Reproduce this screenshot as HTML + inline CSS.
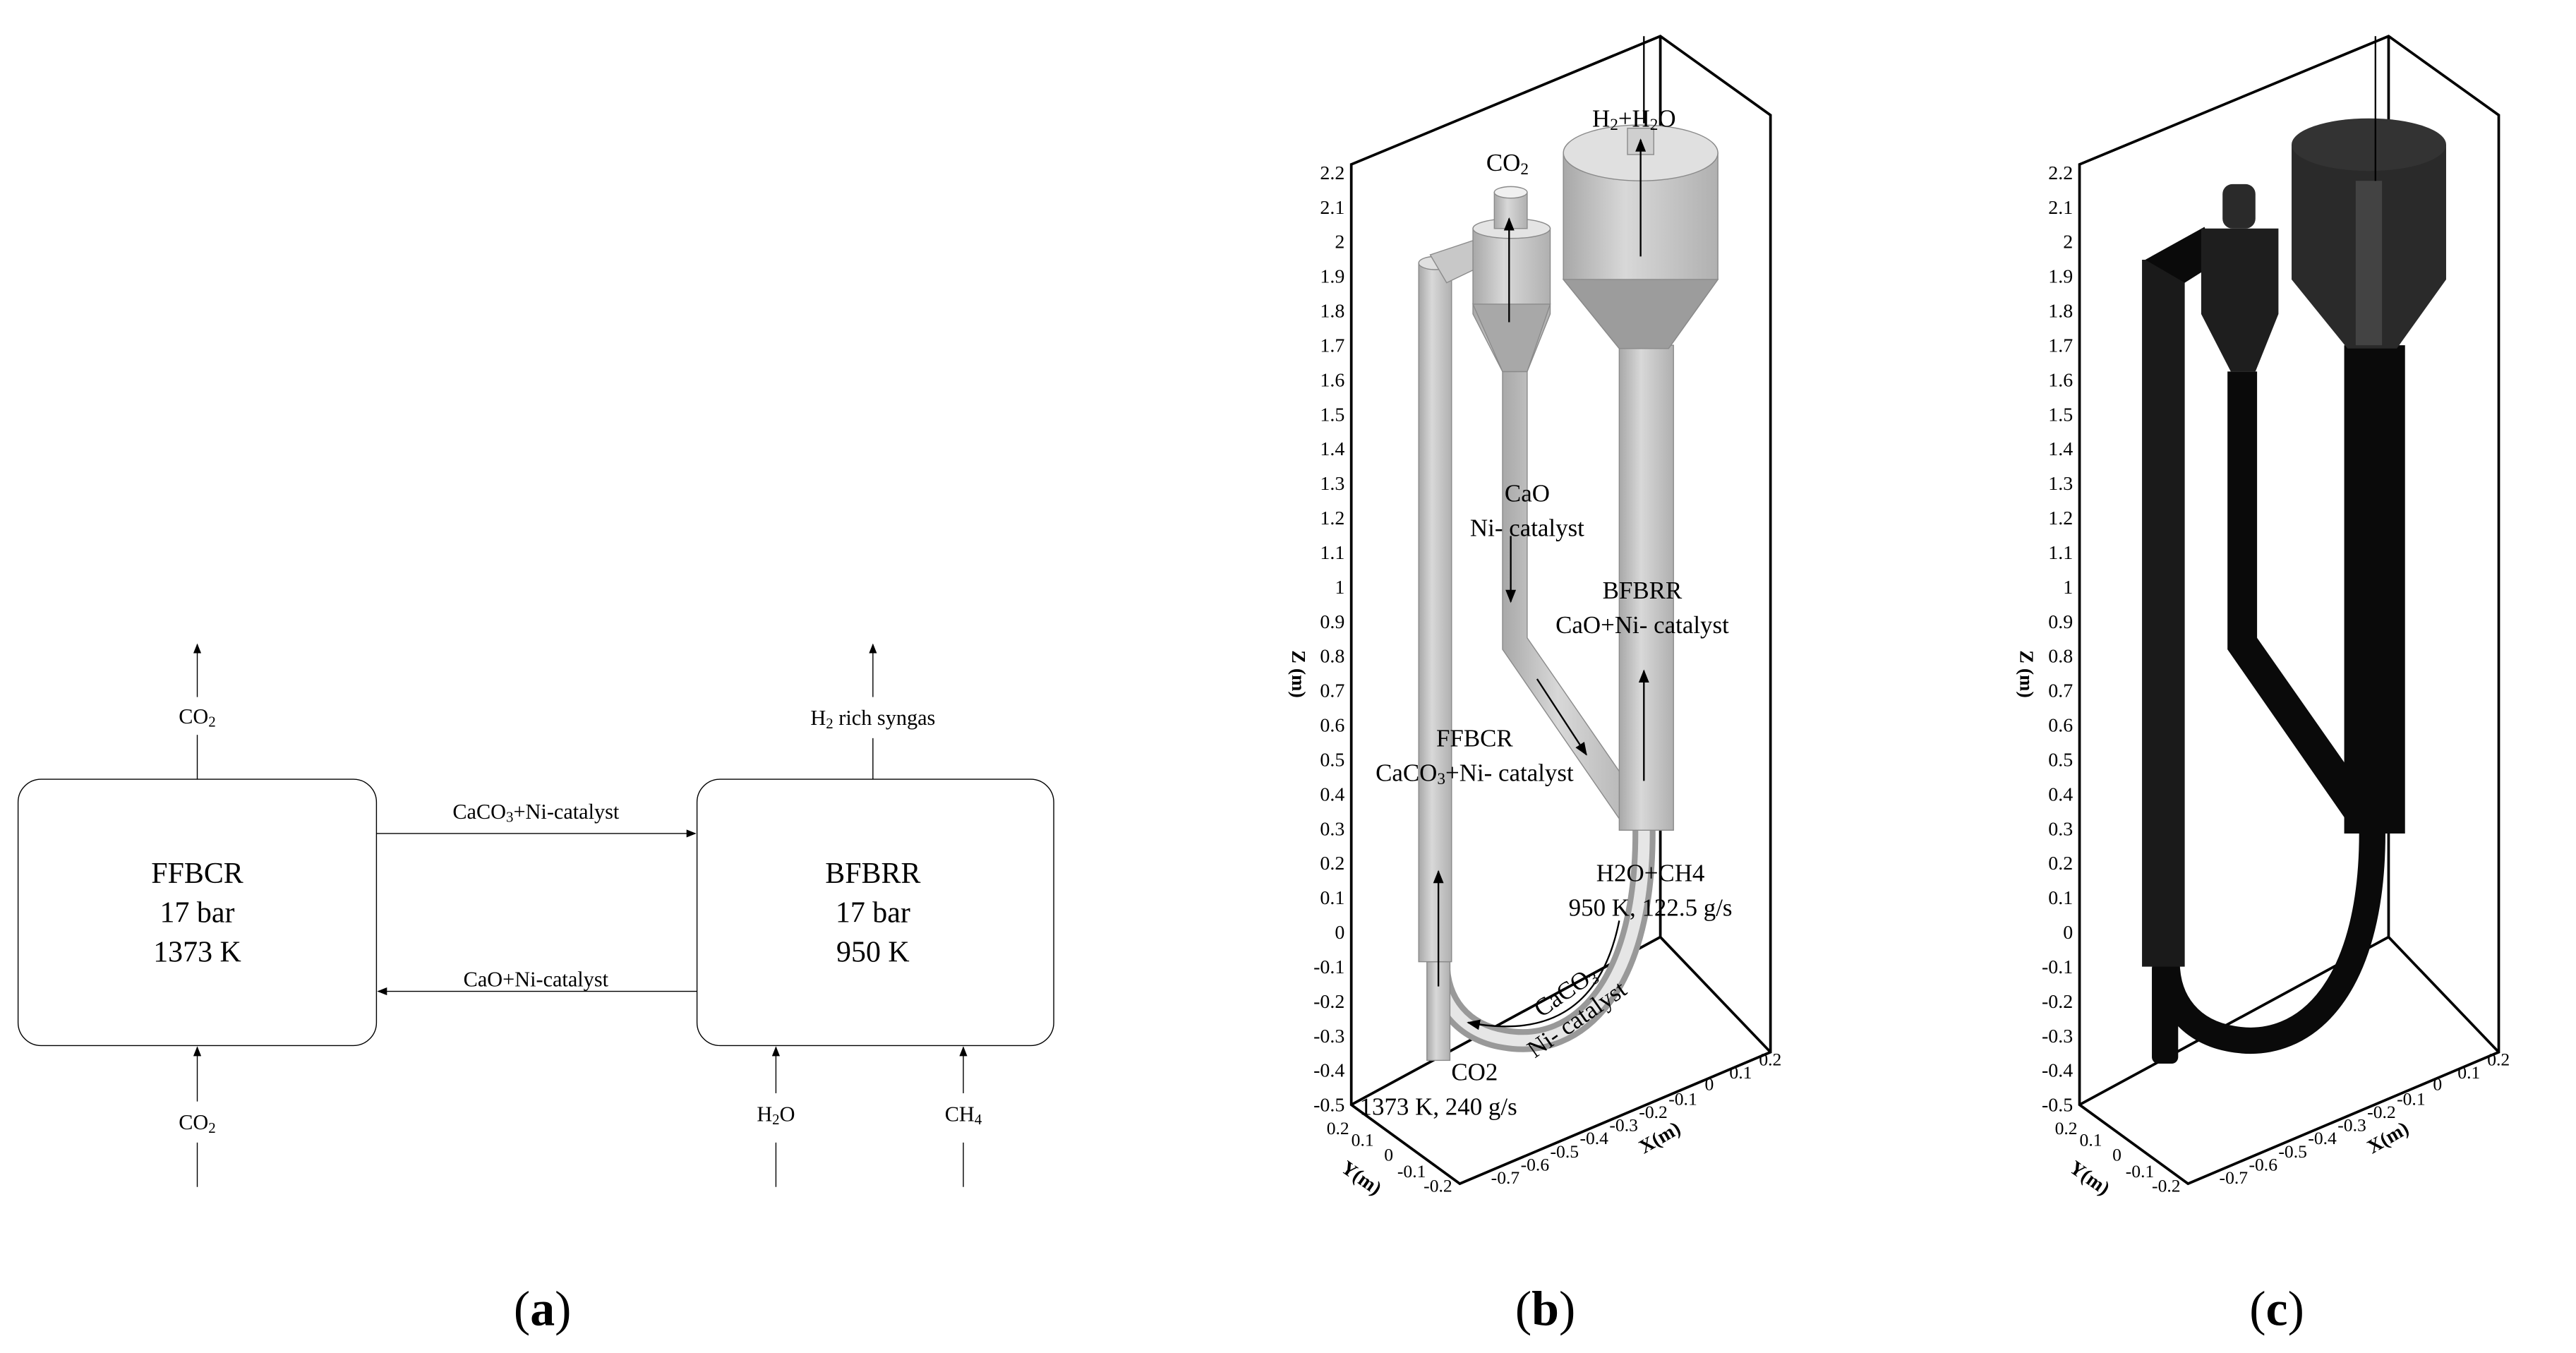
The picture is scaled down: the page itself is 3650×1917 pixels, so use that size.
<!DOCTYPE html>
<html><head><meta charset="utf-8"><style>
html,body{margin:0;padding:0;background:#fff}
svg{display:block}
text{font-family:"Liberation Serif",serif;fill:#000}
</style></head><body>
<svg width="3650" height="1917" viewBox="0 0 1567 823" xmlns="http://www.w3.org/2000/svg">
<defs>
<marker id="ah" viewBox="0 0 10 10" refX="9" refY="5" markerWidth="8" markerHeight="8" markerUnits="userSpaceOnUse" orient="auto"><path d="M0,1 L10,5 L0,9 z" fill="#000"/></marker>
<marker id="ah2" viewBox="0 0 10 10" refX="9" refY="5" markerWidth="6" markerHeight="6" markerUnits="userSpaceOnUse" orient="auto"><path d="M0,1 L10,5 L0,9 z" fill="#000"/></marker>
<linearGradient id="tube" x1="0" x2="1"><stop offset="0" stop-color="#a8a8a8"/><stop offset="0.4" stop-color="#d8d8d8"/><stop offset="1" stop-color="#b0b0b0"/></linearGradient>
<g id="axes">
<g stroke="#000" fill="none" stroke-width="1.6">
<path d="M822,100 L1010,22 L1077,70 L1077,640 L888,720 L822,672 Z"/>
<path d="M1010,22 L1010,570 L822,672 M1010,570 L1077,640"/>
</g>
<g font-size="12" text-anchor="end">
<text x="818" y="109">2.2</text><text x="818" y="130">2.1</text><text x="818" y="151">2</text><text x="818" y="172">1.9</text><text x="818" y="193">1.8</text><text x="818" y="214">1.7</text><text x="818" y="235">1.6</text><text x="818" y="256">1.5</text><text x="818" y="277">1.4</text><text x="818" y="298">1.3</text><text x="818" y="319">1.2</text><text x="818" y="340">1.1</text><text x="818" y="361">1</text><text x="818" y="382">0.9</text><text x="818" y="403">0.8</text><text x="818" y="424">0.7</text><text x="818" y="445">0.6</text><text x="818" y="466">0.5</text><text x="818" y="487">0.4</text><text x="818" y="508">0.3</text><text x="818" y="529">0.2</text><text x="818" y="550">0.1</text><text x="818" y="571">0</text><text x="818" y="592">-0.1</text><text x="818" y="613">-0.2</text><text x="818" y="634">-0.3</text><text x="818" y="655">-0.4</text><text x="818" y="676">-0.5</text>
</g>
<text x="0" y="0" font-size="12" font-weight="bold" transform="translate(786,410) rotate(90)" text-anchor="middle">Z (m)</text>
<g font-size="11">
<text x="807" y="690">0.2</text><text x="822" y="697">0.1</text><text x="842" y="706">0</text><text x="850" y="716">-0.1</text><text x="866" y="725">-0.2</text>
<text x="907" y="720">-0.7</text><text x="925" y="712">-0.6</text><text x="943" y="704">-0.5</text><text x="961" y="696">-0.4</text><text x="979" y="688">-0.3</text><text x="997" y="680">-0.2</text><text x="1015" y="672">-0.1</text><text x="1037" y="663">0</text><text x="1052" y="656">0.1</text><text x="1070" y="648">0.2</text>
</g>
<text font-size="12" font-weight="bold" transform="translate(815,712) rotate(35)">Y(m)</text>
<text font-size="12" font-weight="bold" transform="translate(1000,702) rotate(-30)">X(m)</text>
</g>
</defs>

<!-- Panel (a) -->
<g stroke="#000" stroke-width="0.6" fill="none">
<rect x="11" y="474" width="218" height="162" rx="14"/>
<rect x="424" y="474" width="217" height="162" rx="14"/>
<line x1="120" y1="474" x2="120" y2="447"/><line x1="120" y1="424" x2="120" y2="392" marker-end="url(#ah2)"/>
<line x1="531" y1="474" x2="531" y2="449"/><line x1="531" y1="424" x2="531" y2="392" marker-end="url(#ah2)"/>
<line x1="229" y1="507" x2="423" y2="507" marker-end="url(#ah2)"/>
<line x1="424" y1="603" x2="230" y2="603" marker-end="url(#ah2)"/>
<line x1="120" y1="722" x2="120" y2="695"/><line x1="120" y1="670" x2="120" y2="637" marker-end="url(#ah2)"/>
<line x1="472" y1="722" x2="472" y2="695"/><line x1="472" y1="665" x2="472" y2="637" marker-end="url(#ah2)"/>
<line x1="586" y1="722" x2="586" y2="695"/><line x1="586" y1="665" x2="586" y2="637" marker-end="url(#ah2)"/>
</g>
<g font-size="13" text-anchor="middle">
<text x="120" y="440">CO<tspan font-size="9" dy="2">2</tspan></text>
<text x="531" y="441">H<tspan font-size="9" dy="2">2</tspan><tspan dy="-2"> rich syngas</tspan></text>
<text x="326" y="498">CaCO<tspan font-size="9" dy="2">3</tspan><tspan dy="-2">+Ni-catalyst</tspan></text>
<text x="326" y="600">CaO+Ni-catalyst</text>
<text x="120" y="687">CO<tspan font-size="9" dy="2">2</tspan></text>
<text x="472" y="682">H<tspan font-size="9" dy="2">2</tspan><tspan dy="-2">O</tspan></text>
<text x="586" y="682">CH<tspan font-size="9" dy="2">4</tspan></text>
</g>
<g font-size="18" text-anchor="middle">
<text x="120" y="537">FFBCR</text><text x="120" y="561">17 bar</text><text x="120" y="585">1373 K</text>
<text x="531" y="537">BFBRR</text><text x="531" y="561">17 bar</text><text x="531" y="585">950 K</text>
</g>

<!-- Panel (b) -->
<use href="#axes"/>
<g stroke="#8a8a8a" stroke-width="0.6">
<path d="M1000,500 C1002,600 960,640 915,632 C890,628 875,610 875,585" fill="none" stroke="#999" stroke-width="14"/>
<path d="M1000,500 C1002,600 960,640 915,632 C890,628 875,610 875,585" fill="none" stroke="#e6e6e6" stroke-width="7"/>
<rect x="868" y="585" width="14" height="60" fill="url(#tube)"/>
<rect x="863" y="160" width="20" height="425" fill="url(#tube)"/>
<ellipse cx="873" cy="160" rx="10" ry="4" fill="#e0e0e0"/>
<path d="M870,155 L900,145 L905,160 L880,172 Z" fill="#c8c8c8"/>
<path d="M914,226 L929,226 L929,388 L998,488 L985,498 L914,395 Z" fill="url(#tube)"/>
<path d="M896,139 L943,139 L943,191 L929,226 L914,226 L896,191 Z" fill="url(#tube)"/>
<path d="M896,185 L943,185 L929,226 L914,226 Z" fill="#a8a8a8"/>
<ellipse cx="919.5" cy="139" rx="23.5" ry="6" fill="#e4e4e4"/>
<rect x="909" y="117" width="20" height="22" fill="url(#tube)"/>
<ellipse cx="919" cy="117" rx="10" ry="3.5" fill="#f0f0f0"/>
<rect x="985" y="210" width="33" height="295" fill="url(#tube)"/>
<path d="M951,93 L1045,93 L1045,170 L1015,212 L985,212 L951,170 Z" fill="url(#tube)"/>
<path d="M951,170 L1045,170 L1015,212 L985,212 Z" fill="#9c9c9c"/>
<ellipse cx="998" cy="93" rx="47" ry="17" fill="#e0e0e0"/>
<rect x="990" y="78" width="16" height="16" fill="#cfcfcf"/>
</g>
<g stroke="#000" stroke-width="1" fill="none">
<line x1="918" y1="196" x2="918" y2="133" marker-end="url(#ah)"/>
<line x1="998" y1="156" x2="998" y2="85" marker-end="url(#ah)"/>
<line x1="1000" y1="75" x2="1000" y2="22"/>
<line x1="919" y1="326" x2="919" y2="366" marker-end="url(#ah)"/>
<line x1="935" y1="413" x2="965" y2="459" marker-end="url(#ah)"/>
<line x1="1000" y1="475" x2="1000" y2="408" marker-end="url(#ah)"/>
<line x1="875" y1="600" x2="875" y2="530" marker-end="url(#ah)"/>
<path d="M985,560 C975,610 945,632 893,622" marker-end="url(#ah)"/>
</g>
<g font-size="15" text-anchor="middle" fill="#222">
<text x="994" y="77">H<tspan font-size="10" dy="2">2</tspan><tspan dy="-2">+H</tspan><tspan font-size="10" dy="2">2</tspan><tspan dy="-2">O</tspan></text>
<text x="917" y="104">CO<tspan font-size="10" dy="2">2</tspan></text>
<text x="929" y="305">CaO</text>
<text x="929" y="326">Ni- catalyst</text>
<text x="999" y="364">BFBRR</text>
<text x="999" y="385">CaO+Ni- catalyst</text>
<text x="897" y="454">FFBCR</text>
<text x="897" y="475">CaCO<tspan font-size="10" dy="2">3</tspan><tspan dy="-2">+Ni- catalyst</tspan></text>
<text x="1004" y="536">H2O+CH4</text>
<text x="1004" y="557">950 K, 122.5 g/s</text>
<text x="897" y="657">CO2</text>
<text x="875" y="678">1373 K, 240 g/s</text>
<text transform="translate(955,607) rotate(-35)">CaCO<tspan font-size="10" dy="2">3</tspan></text>
<text transform="translate(962,624) rotate(-35)">Ni- catalyst</text>
</g>

<!-- Panel (c) -->
<g transform="translate(443,0)">
<use href="#axes"/>
<g fill="#0a0a0a">
<path d="M1000,500 C1002,600 960,640 915,632 C890,628 875,610 875,585" fill="none" stroke="#0a0a0a" stroke-width="16"/>
<rect x="866" y="585" width="16" height="62" rx="4"/>
<rect x="860" y="158" width="26" height="430" fill="#1a1a1a"/>
<path d="M862,158 L898,138 L905,160 L886,172 Z"/>
<path d="M912,226 L930,226 L930,388 L1000,488 L985,500 L912,395 Z"/>
<path d="M896,139 L943,139 L943,191 L929,226 L914,226 L896,191 Z" fill="#1e1e1e"/>
<rect x="909" y="112" width="20" height="27" rx="6" fill="#2a2a2a"/>
<rect x="983" y="210" width="37" height="297"/>
<path d="M951,88 L1045,88 L1045,170 L1015,212 L985,212 L951,170 Z" fill="#2a2a2a"/>
<ellipse cx="998" cy="88" rx="47" ry="16" fill="#333"/>
<rect x="990" y="110" width="16" height="100" fill="#555" opacity="0.6"/>
</g>
<line x1="1002" y1="22" x2="1002" y2="110" stroke="#000" stroke-width="1"/>
</g>

<g font-size="30" text-anchor="middle" font-family="Liberation Serif">
<text x="330" y="806">(<tspan font-weight="bold">a</tspan>)</text>
<text x="940" y="806">(<tspan font-weight="bold">b</tspan>)</text>
<text x="1385" y="806">(<tspan font-weight="bold">c</tspan>)</text>
</g>
</svg>
</body></html>
